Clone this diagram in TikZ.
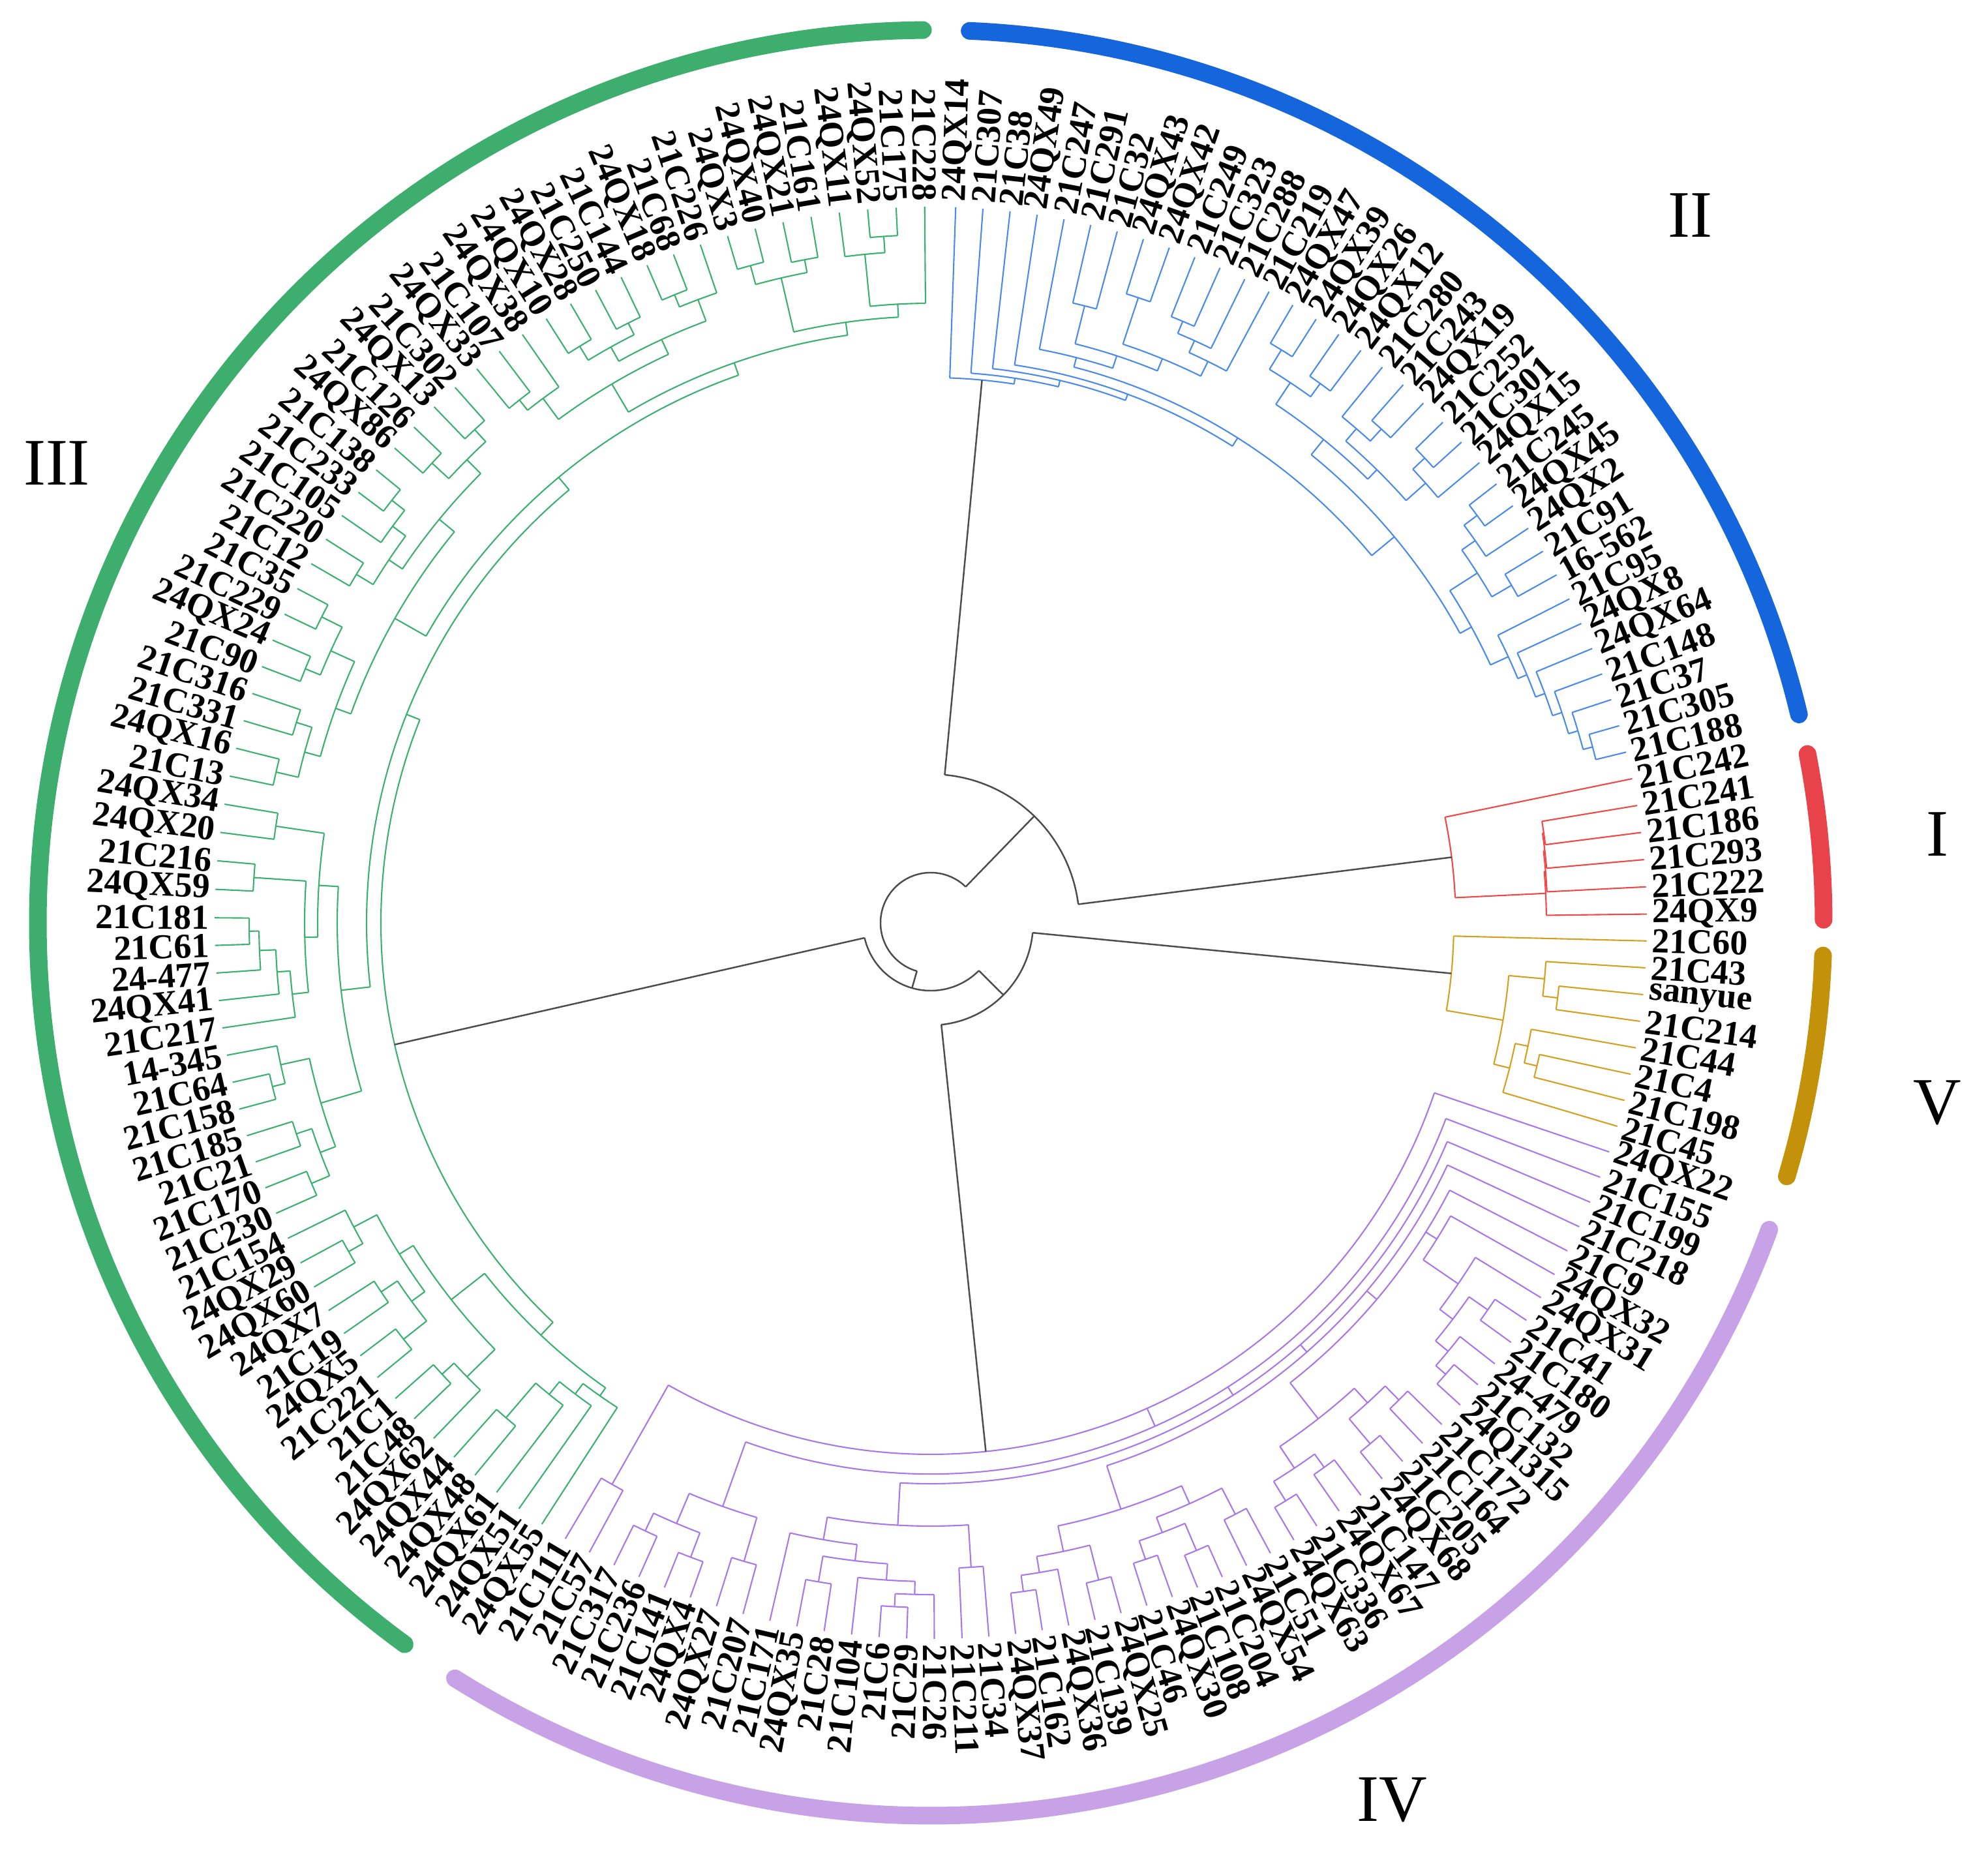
\documentclass[tikz,border=0pt]{standalone}
\usepackage{fontspec}
\setmainfont{Liberation Serif}
\definecolor{gnbar}{RGB}{62,174,110}
\definecolor{blbar}{RGB}{21,101,220}
\definecolor{rdbar}{RGB}{232,67,74}
\definecolor{gdbar}{RGB}{196,146,10}
\definecolor{pubar}{RGB}{200,162,230}
\definecolor{gnln}{RGB}{60,176,112}
\definecolor{blln}{RGB}{74,139,234}
\definecolor{rdln}{RGB}{240,72,72}
\definecolor{gdln}{RGB}{212,160,32}
\definecolor{puln}{RGB}{168,120,232}
\tikzset{
  clI/.style={rdln,line width=0.6pt},
  clII/.style={blln,line width=0.6pt},
  clIII/.style={gnln,line width=0.6pt},
  clIV/.style={puln,line width=0.6pt},
  clV/.style={gdln,line width=0.6pt},
  gry/.style={black!70,line width=0.7pt},
  lab/.style={font=\fontsize{15.3}{16}\selectfont\bfseries,inner sep=0pt},
  roman/.style={font=\fontsize{29}{30}\selectfont},
  bar/.style={line width=0.27cm,line cap=round}
}
% angle of leaf position #2 (piecewise, follows the label ring)
\newcommand\angof[2]{\pgfmathsetmacro#1{(#2)<=40 ? 88-2.1825*(#2) : ((#2)<=81 ? 0.7-2.151*((#2)-40) : ((#2)<=123 ? -87.5-2.212*((#2)-81) : -180.4-2.285*((#2)-123)))}}
\def\Rl{10.98}
\newcommand\spoke[4]{\angof\angp{#2}\draw[#1] (\angp:#3) -- (\angp:#4);}
\newcommand\bow[4]{\angof\angp{#2}\angof\angq{#3}%
  \draw[#1] (\angp:#4) arc[start angle=\angp, end angle=\angq, radius=#4];}
% join units p/ru/rn one by one onto the clade started at #2 (radius #3)
\newcommand\spine[4]{\xdef\accp{#2}\xdef\accr{#3}%
  \foreach \pp/\ru/\rn in {#4}{%
    \bow{#1}{\pp}{\accp}{\rn}%
    \spoke{#1}{\pp}{\rn}{\ru}%
    \spoke{#1}{\accp}{\rn}{\accr}%
    \pgfmathsetmacro\nwp{(\pp+\accp)/2}%
    \xdef\accp{\nwp}\xdef\accr{\rn}}}
\begin{document}
\begin{tikzpicture}[line join=round]
\useasboundingbox (-14.27,-14.40) rectangle (16.21,14.15);
\fill[white] (-14.27,-14.40) rectangle (16.21,14.15);

% cluster II
\spine{clII}{8}{\Rl}{7/\Rl/10.10}\xdef\Ba{\accp}
\spine{clII}{6}{\Rl}{5/\Rl/9.75}\xdef\Bb{\accp}
\spine{clII}{9}{\Rl}{10/\Rl/10.0, 11/\Rl/9.8, 12/\Rl/9.6}\xdef\Bc{\accp}
\spine{clII}{\Bc}{9.6}{\Ba/10.10/9.35, \Bb/9.75/9.15, 4/\Rl/8.95}\xdef\Bd{\accp}
\spine{clII}{14}{\Rl}{13/\Rl/10.30}\xdef\Be{\accp}
\spine{clII}{16}{\Rl}{15/\Rl/10.20, \Be/10.30/9.95}\xdef\Bf{\accp}
\spine{clII}{19}{\Rl}{18/\Rl/10.25, 17/\Rl/10.0}\xdef\Bg{\accp}
\spine{clII}{20}{\Rl}{21/\Rl/10.40, 22/\Rl/10.15, \Bg/10.0/9.75, \Bf/9.95/9.55}\xdef\Bh{\accp}
\spine{clII}{23}{\Rl}{24/\Rl/10.45, 25/\Rl/10.2}\xdef\Bi{\accp}
\spine{clII}{27}{\Rl}{26/\Rl/10.30, \Bi/10.2/9.95}\xdef\Bj{\accp}
\spine{clII}{34}{\Rl}{33/\Rl/10.50, 32/\Rl/10.35, 31/\Rl/10.2, 30/\Rl/10.05, 29/\Rl/9.9, 28/\Rl/9.75, \Bj/9.95/9.45}\xdef\Bk{\accp}
\spine{clII}{\Bk}{9.45}{\Bh/9.55/9.25, \Bd/8.95/8.80, 3/\Rl/8.65, 2/\Rl/8.55, 1/\Rl/8.45, 0/\Rl/8.36}\xdef\pII{\accp}

% cluster I
\spine{clI}{36}{\Rl}{37/\Rl/9.50, 38/\Rl/9.48, 39/\Rl/9.46, 40/\Rl/9.44, 35/\Rl/8.05}\xdef\pI{\accp}

% cluster V
\spine{clV}{44}{\Rl}{43/\Rl/9.68, 42/\Rl/9.45}\xdef\Va{\accp}
\spine{clV}{47}{\Rl}{46/\Rl/9.55, 45/\Rl/9.35, 48/\Rl/9.15, \Va/9.45/8.90, 41/\Rl/8.02}\xdef\pV{\accp}

% cluster IV
\spine{clIV}{96}{\Rl}{95/\Rl/9.9}\xdef\PA{\accp}
\spine{clIV}{94}{\Rl}{93/\Rl/10.3}\xdef\PBa{\accp}
\spine{clIV}{92}{\Rl}{91/\Rl/10.4, \PBa/10.3/10.0}\xdef\PBb{\accp}
\spine{clIV}{90}{\Rl}{89/\Rl/10.2, \PBb/10.0/9.5}\xdef\PB{\accp}
\spine{clIV}{84}{\Rl}{83/\Rl/10.5, 82/\Rl/10.3, 85/\Rl/10.1}\xdef\PCa{\accp}
\spine{clIV}{87}{\Rl}{86/\Rl/10.25, \PCa/10.1/9.85, 88/\Rl/9.6}\xdef\PCb{\accp}
\spine{clIV}{81}{\Rl}{80/\Rl/9.9, \PCb/9.6/9.25}\xdef\PC{\accp}
\spine{clIV}{79}{\Rl}{78/\Rl/10.35, 77/\Rl/10.1}\xdef\PDa{\accp}
\spine{clIV}{76}{\Rl}{75/\Rl/10.4, \PDa/10.1/9.85}\xdef\PDb{\accp}
\spine{clIV}{72}{\Rl}{71/\Rl/10.45}\xdef\PDc{\accp}
\spine{clIV}{74}{\Rl}{73/\Rl/10.3, \PDc/10.45/10.0}\xdef\PDd{\accp}
\spine{clIV}{70}{\Rl}{69/\Rl/10.2, \PDd/10.0/9.75, \PDb/9.85/9.45}\xdef\PD{\accp}
\spine{clIV}{68}{\Rl}{67/\Rl/10.4}\xdef\PEa{\accp}
\spine{clIV}{66}{\Rl}{65/\Rl/10.3, \PEa/10.4/10.05}\xdef\PEb{\accp}
\spine{clIV}{64}{\Rl}{63/\Rl/10.45}\xdef\PEc{\accp}
\spine{clIV}{62}{\Rl}{61/\Rl/10.25, \PEc/10.45/9.95, \PEb/10.05/9.65}\xdef\PE{\accp}
\spine{clIV}{60}{\Rl}{59/\Rl/10.5, 58/\Rl/10.3}\xdef\PFa{\accp}
\spine{clIV}{57}{\Rl}{56/\Rl/10.4, \PFa/10.3/10.05, 55/\Rl/9.8}\xdef\PF{\accp}
\foreach \cl/\cr/\lv/\r/\nx/\rx in {\PA/9.9/49/8.15/71/8.45, \PB/9.5/50/8.45/67/8.60,
  \PC/9.25/51/8.60/63/8.75, \PD/9.45/52/8.75/59/8.95, \PE/9.65/53/8.95/55.2/9.15, \PF/9.8/54/9.15/55.2/9.15}{
  \bow{clIV}{\cl}{\lv}{\r}
  \spoke{clIV}{\cl}{\r}{\cr}
  \spoke{clIV}{\lv}{\r}{\Rl}
  \spoke{clIV}{\nx}{\r}{\rx}
}
\def\pIV{79.4}

% cluster III
\spine{clIII}{104}{\Rl}{103/\Rl/10.2, 102/\Rl/9.95}\xdef\Ga{\accp}
\spine{clIII}{106}{\Rl}{105/\Rl/10.3}\xdef\Gb{\accp}
\spine{clIII}{108}{\Rl}{107/\Rl/10.15, \Gb/10.3/9.85}\xdef\Gc{\accp}
\spine{clIII}{110}{\Rl}{109/\Rl/10.25, 111/\Rl/10.0, \Gc/9.85/9.6, \Ga/9.95/9.35}\xdef\Gd{\accp}
\spine{clIII}{101}{\Rl}{100/\Rl/10.0, 99/\Rl/9.3, 98/\Rl/9.05, 97/\Rl/8.85}\xdef\Ge{\accp}
\spine{clIII}{113}{\Rl}{112/\Rl/10.3}\xdef\Gf{\accp}
\spine{clIII}{115}{\Rl}{114/\Rl/10.25, \Gf/10.3/10.0}\xdef\Gg{\accp}
\spine{clIII}{116}{\Rl}{117/\Rl/10.4, 118/\Rl/10.2, \Gg/10.0/9.75}\xdef\Gh{\accp}
\spine{clIII}{123}{\Rl}{122/\Rl/10.45, 121/\Rl/10.3, 120/\Rl/10.05, 119/\Rl/9.85}\xdef\Gi{\accp}
\spine{clIII}{125}{\Rl}{124/\Rl/10.4}\xdef\Gj{\accp}
\spine{clIII}{127}{\Rl}{126/\Rl/10.15}\xdef\Gk{\accp}
\spine{clIII}{\Gi}{9.85}{\Gj/10.4/9.6, \Gk/10.15/9.4, \Gh/9.75/9.1}\xdef\Gmid{\accp}
\spine{clIII}{129}{\Rl}{128/\Rl/10.3}\xdef\Gl{\accp}
\spine{clIII}{131}{\Rl}{130/\Rl/10.2, \Gl/10.3/9.95}\xdef\Gm{\accp}
\spine{clIII}{133}{\Rl}{132/\Rl/10.35}\xdef\Gn{\accp}
\spine{clIII}{135}{\Rl}{134/\Rl/10.45, \Gn/10.35/10.1, \Gm/9.95/9.7}\xdef\Go{\accp}
\spine{clIII}{140}{\Rl}{139/\Rl/10.5, 138/\Rl/10.25}\xdef\Gp{\accp}
\spine{clIII}{137}{\Rl}{136/\Rl/10.3, \Gp/10.25/10.0}\xdef\Gq{\accp}
\spine{clIII}{142}{\Rl}{141/\Rl/10.4}\xdef\Gr{\accp}
\spine{clIII}{144}{\Rl}{143/\Rl/10.3, \Gr/10.4/10.05, \Gq/10.0/9.75, \Go/9.7/9.45}\xdef\Gs{\accp}
\spine{clIII}{146}{\Rl}{145/\Rl/10.2, 147/\Rl/10.0}\xdef\Gt{\accp}
\spine{clIII}{149}{\Rl}{148/\Rl/10.35}\xdef\Gu{\accp}
\spine{clIII}{151}{\Rl}{150/\Rl/10.3, \Gu/10.35/10.1}\xdef\Gv{\accp}
\spine{clIII}{153}{\Rl}{152/\Rl/10.4, 154/\Rl/10.2, \Gv/10.1/9.85, \Gt/10.0/9.6}\xdef\Gw{\accp}
\spine{clIII}{156}{\Rl}{155/\Rl/10.45}\xdef\Gx{\accp}
\spine{clIII}{158}{\Rl}{157/\Rl/10.35, \Gx/10.45/10.15}\xdef\Gy{\accp}
\spine{clIII}{161}{\Rl}{160/\Rl/10.55, 159/\Rl/10.3, 162/\Rl/9.5, \Gy/10.15/9.3, \Gw/9.6/9.1, \Gs/9.45/8.9}\xdef\Gup{\accp}
\spine{clIII}{\Gd}{9.35}{\Ge/8.85/8.7}\xdef\Glow{\accp}
\spine{clIII}{\Gup}{8.9}{\Gmid/9.1/8.65, \Glow/8.7/8.43}\xdef\pIII{\accp}

% backbone
\angof\angI{\pI}
\angof\angII{\pII}
\angof\angIII{\pIII}
\angof\angIV{\pIV}
\angof\angV{\pV}
\pgfmathsetmacro\angA{(\angI+\angII)/2}
\pgfmathsetmacro\angB{(\angIV+\angV)/2}
\pgfmathsetmacro\angC{(\angIII+\angB)/2}
\pgfmathsetmacro\angCC{\angC+360}
\draw[gry] (\angA:0.77) arc[start angle=\angA, end angle=\angCC, radius=0.77];
\draw[gry] (\angA:0.77) -- (\angA:2.28);
\draw[gry] (\angII:2.28) arc[start angle=\angII, end angle=\angI, radius=2.28];
\draw[gry] (\angII:2.28) -- (\angII:8.36);
\draw[gry] (\angI:2.28) -- (\angI:8.05);
\draw[gry] (\angC:0.77) -- (\angC:1.04);
\draw[gry] (\angIII:1.04) arc[start angle=\angIII, end angle=\angB, radius=1.04];
\draw[gry] (\angIII:1.04) -- (\angIII:8.43);
\draw[gry] (\angB:1.04) -- (\angB:1.57);
\draw[gry] (\angIV:1.57) arc[start angle=\angIV, end angle=\angV, radius=1.57];
\draw[gry] (\angV:1.57) -- (\angV:8.02);
\draw[gry] (\angIV:1.57) -- (\angIV:8.15);

% leaf labels
\foreach \i/\t in {0/24QX14,1/21C307,2/21C38,3/24QX49,4/21C247,5/21C291,6/21C32,7/24QX43,8/24QX42,9/21C249,
  10/21C323,11/21C288,12/21C219,13/24QX47,14/24QX39,15/24QX26,16/24QX12,17/21C280,18/21C243,19/24QX19,
  20/21C252,21/21C301,22/24QX15,23/21C245,24/24QX45,25/24QX2,26/21C91,27/16-562,28/21C95,29/24QX8,
  30/24QX64,31/21C148,32/21C37,33/21C305,34/21C188,35/21C242,36/21C241,37/21C186,38/21C293,39/21C222,
  40/24QX9,41/21C60,42/21C43,43/sanyue,44/21C214,45/21C44,46/21C4,47/21C198,48/21C45,49/24QX22,
  50/21C155,51/21C199,52/21C218,53/21C9,54/24QX32,55/24QX31,56/21C41,57/21C180,58/24-479,59/21C132,
  60/24Q1315,61/21C172,62/21C164,63/21C205,64/24QX68,65/21C147,66/24QX67,67/21C336,68/24QX63,69/21C51,
  70/24QX54,71/21C204,72/21C108,73/24QX30,74/21C46,75/24QX25,76/21C139,77/24QX36,78/21C162,79/24QX37,
  80/21C34,81/21C211,82/21C26,83/21C29,84/21C6,85/21C104,86/21C28,87/24QX35,88/21C171,89/21C207,
  90/24QX27,91/24QX4,92/21C141,93/21C236,94/21C317,95/21C57,96/21C111,97/24QX55,98/24QX51,99/24QX61,
  100/24QX48,101/24QX44,102/24QX62,103/21C48,104/21C1,105/21C221,106/24QX5,107/21C19,108/24QX7,109/24QX60,
  110/24QX29,111/21C154,112/21C230,113/21C170,114/21C21,115/21C185,116/21C158,117/21C64,118/14-345,119/21C217,
  120/24QX41,121/24-477,122/21C61,123/21C181,124/24QX59,125/21C216,126/24QX20,127/24QX34,128/21C13,129/24QX16,
  130/21C331,131/21C316,132/21C90,133/24QX24,134/21C229,135/21C35,136/21C12,137/21C220,138/21C105,139/21C233,
  140/21C138,141/24QX86,142/21C126,143/24QX13,144/21C302,145/24QX33,146/21C107,147/24QX38,148/24QX10,149/24QX28,
  150/21C250,151/21C144,152/24QX18,153/21C68,154/21C226,155/24QX3,156/24QX40,157/24QX21,158/21C161,159/24QX11,
  160/24QX52,161/21C175,162/21C228}{
  \angof\th{\i}
  \pgfmathsetmacro\tf{\th+180}
  \pgfmathsetmacro\rr{\Rl+0.08}
  \pgfmathparse{cos(\th)>=0 ? 1 : 0}
  \ifnum\pgfmathresult=1
    \node[lab,anchor=west,rotate=\th] (l\i) at (\th:\rr) {\t};
  \else
    \node[lab,anchor=east,rotate=\tf] (l\i) at (\th:\rr) {\t};
  \fi
}

% cluster bars
\draw[bar,blbar] (87.5:13.69) arc[start angle=87.5, end angle=13.5, radius=13.69];
\draw[bar,rdbar] (10.9:13.69) arc[start angle=10.9, end angle=0.2, radius=13.69];
\draw[bar,gdbar] (-2.1:13.69) arc[start angle=-2.1, end angle=-16.5, radius=13.69];
\draw[bar,pubar] (-20.1:13.69) arc[start angle=-20.1, end angle=-122.2, radius=13.69];
\draw[bar,gnbar] (90.5:13.69) arc[start angle=90.5, end angle=233.9, radius=13.69];

\node[roman] (nII) at (11.64,10.85) {II};
\node[roman] (nI) at (15.43,1.36) {I};
\node[roman] (nV) at (15.43,-2.76) {V};
\node[roman] (nIV) at (7.07,-13.45) {IV};
\node[roman] (nIII) at (-13.40,7.05) {III};
\end{tikzpicture}
\end{document}
